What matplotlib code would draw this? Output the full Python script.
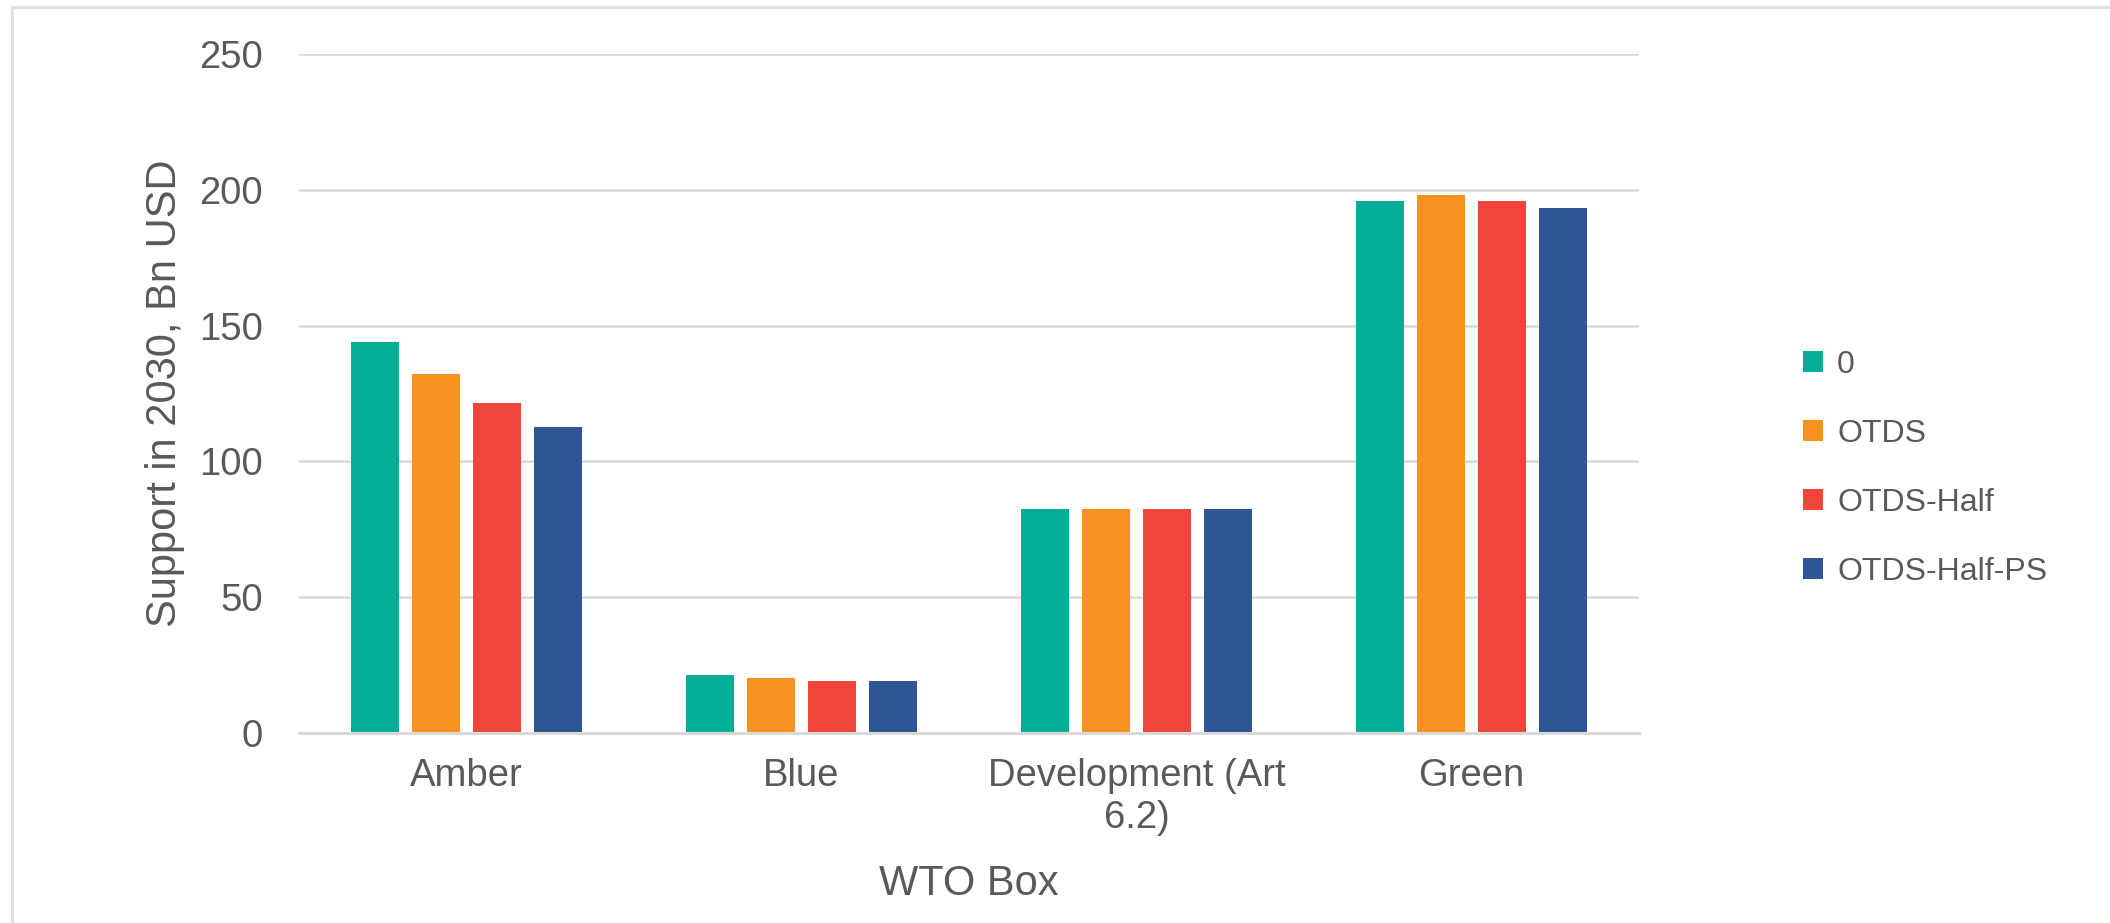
import numpy as np
import matplotlib
matplotlib.use("Agg")
import matplotlib.pyplot as plt
from matplotlib.lines import Line2D

plt.rcParams['font.family'] = ['Liberation Sans', 'DejaVu Sans']

# Data
boxes = ['Amber', 'Blue', 'Development (Art\n6.2)', 'Green']
scenarios = ['0', 'OTDS', 'OTDS-Half', 'OTDS-Half-PS']
support_0 = [143.8, 21.3, 82.3, 195.8]
support_otds = [132.0, 20.2, 82.5, 198.1]
support_half = [121.4, 19.3, 82.5, 195.8]
support_half_ps = [112.5, 19.3, 82.5, 193.3]
colors = ['#02AE98', '#F7931E', '#EF453B', '#2E5694']

text_col = '#595959'
grid_col = '#D9D9D9'

fig = plt.figure(figsize=(21.1, 9.23), dpi=100)
ax = fig.add_axes([0.1417, 0.2059, 0.635, 0.7356])

x = np.arange(len(boxes))
step = 0.182
width = 0.143
series = [support_0, support_otds, support_half, support_half_ps]
for j, (vals, name) in enumerate(zip(series, scenarios)):
    ax.bar(x + (j - 1.5) * step, vals, width=width, color=colors[j], label=name, zorder=3)

ax.set_xlim(-0.5, 3.5)
ax.set_ylim(0, 250)
ax.set_yticks(np.arange(0, 251, 50))
ax.set_xticks(x)
ax.set_xticklabels(boxes, linespacing=1.2)
ax.yaxis.grid(True, color=grid_col, linewidth=1.8, zorder=0)
ax.set_axisbelow(True)
for s in ['top', 'right', 'left']:
    ax.spines[s].set_visible(False)
ax.spines['bottom'].set_color(grid_col)
ax.spines['bottom'].set_linewidth(2.2)
ax.spines['bottom'].set_zorder(4)

ax.tick_params(axis='both', length=0, labelsize=27.5, colors=text_col)
ax.tick_params(axis='y', pad=26)
ax.tick_params(axis='x', pad=18)

ax.set_ylabel('Support in 2030, Bn USD', fontsize=30, color=text_col)
ax.yaxis.set_label_coords(-0.1, 0.5)
ax.yaxis.label.set_va('center')
ax.set_xlabel('WTO Box', fontsize=30, color=text_col)
ax.xaxis.set_label_coords(0.5, -0.222)
ax.xaxis.label.set_va('center')

leg = ax.legend(loc='center left', bbox_to_anchor=(1.113, 0.39), frameon=False,
                fontsize=23, handlelength=0.62, handleheight=0.62,
                handletextpad=0.45, labelspacing=1.22, borderaxespad=0)
for t in leg.get_texts():
    t.set_color(text_col)

# chart frame (top and left edges)
fig.add_artist(Line2D([12 / 2110, 1], [1 - 7 / 923, 1 - 7 / 923], color='#E0E0E0', linewidth=2.2))
fig.add_artist(Line2D([12 / 2110, 12 / 2110], [0, 1 - 7 / 923], color='#E0E0E0', linewidth=2.2))

fig.savefig('out.png', dpi=100, facecolor='white')
